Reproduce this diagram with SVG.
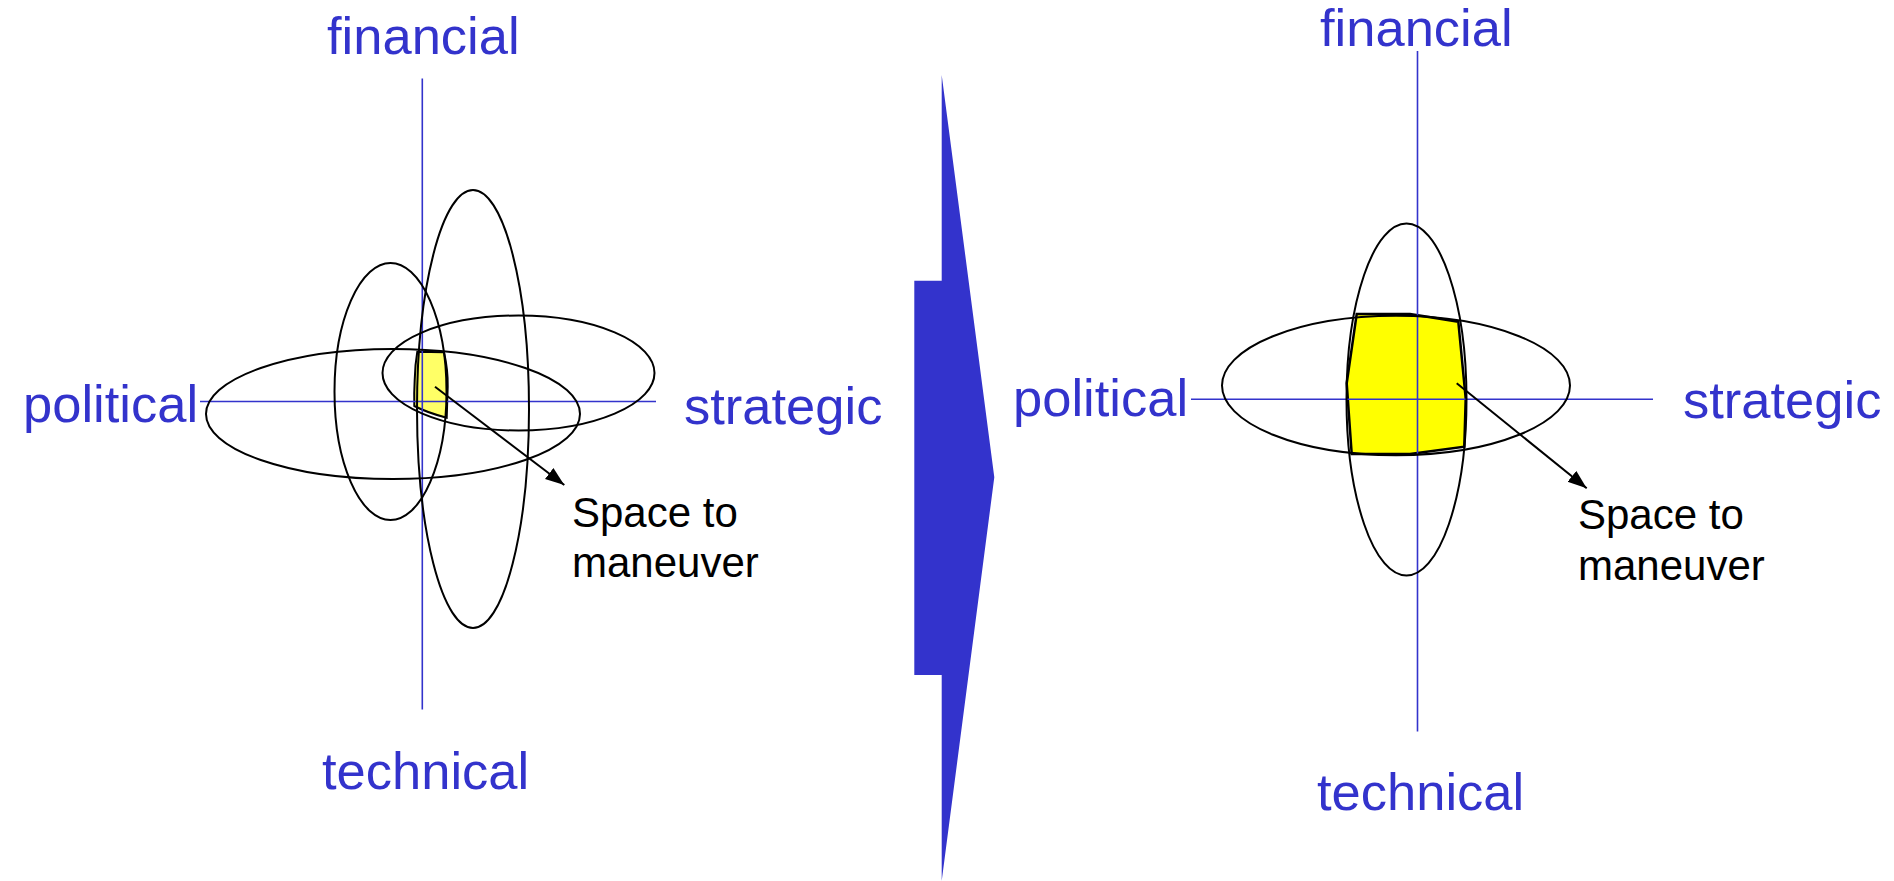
<svg xmlns="http://www.w3.org/2000/svg" width="1894" height="881" viewBox="0 0 1894 881">
<defs>
<style>
.lbl{font-family:"Liberation Sans",Arial,sans-serif;font-size:52.5px;fill:#3333cc}
.note{font-family:"Liberation Sans",Arial,sans-serif;font-size:42px;fill:#000}
.axis{stroke:#3333cc;stroke-width:1.6;fill:none}
.ell{stroke:#000;stroke-width:2;fill:none}
.ptr{stroke:#000;stroke-width:2;fill:none;marker-end:url(#head)}
</style>
<marker id="head" markerUnits="userSpaceOnUse" markerWidth="20" markerHeight="16" refX="19" refY="7" orient="auto" viewBox="0 0 20 14">
<path d="M0,0 L19,7 L0,14 Z" fill="#000"/>
</marker>
</defs>
<rect width="1894" height="881" fill="#fff"/>

<g id="left-diagram">
<g id="left-space">
<path d="M417.3,351.7 L444,352.3 Q448,370 447.7,386.7 L446.7,417.7 Q428,413 414.3,406 Q414,392 414.7,380 Q415,365 417.3,351.7 Z" fill="#ffff66" stroke="#000" stroke-width="2"/>
</g>
<g id="left-axes">
<line class="axis" x1="422.3" y1="78.5" x2="422.3" y2="709.5"/>
<line class="axis" x1="200" y1="401.5" x2="656" y2="401.5"/>
</g>
<g id="left-ellipses">
<ellipse class="ell" cx="393" cy="414" rx="187" ry="65"/>
<ellipse class="ell" cx="518.5" cy="373" rx="136" ry="57.5"/>
<ellipse class="ell" cx="390.5" cy="391.5" rx="56" ry="128.5"/>
<ellipse class="ell" cx="473" cy="409" rx="56" ry="219"/>
</g>
<g id="left-labels">
<text class="lbl" x="327" y="54">financial</text>
<text class="lbl" x="23" y="422">political</text>
<text class="lbl" x="684" y="424">strategic</text>
<text class="lbl" x="322" y="789">technical</text>
<text class="note" x="572" y="527">Space to</text>
<text class="note" x="572" y="577">maneuver</text>
</g>
</g>

<g id="transition-arrow">
<polygon points="941.7,75 994.3,477.3 941.7,881 941.7,675 914.3,675 914.3,280.7 941.7,280.7" fill="#3333cc"/>
</g>

<g id="right-diagram">
<g id="right-space">
<path d="M1356.7,314 L1410,314 L1458.3,321.7 L1465.7,398.3 L1464.3,446.7 L1410,454 L1351.7,454 L1346.7,383.3 Z" fill="#ffff00" stroke="#000" stroke-width="2.5"/>
</g>
<g id="right-axes">
<line class="axis" x1="1417.5" y1="51" x2="1417.5" y2="731.5"/>
<line class="axis" x1="1191" y1="399.3" x2="1653" y2="399.3"/>
</g>
<g id="right-ellipses">
<ellipse class="ell" cx="1396" cy="385.5" rx="174" ry="69.7"/>
<ellipse class="ell" cx="1406.5" cy="399.5" rx="60" ry="176"/>
</g>
<g id="right-labels">
<text class="lbl" x="1320" y="46">financial</text>
<text class="lbl" x="1013" y="416">political</text>
<text class="lbl" x="1683" y="418">strategic</text>
<text class="lbl" x="1317" y="810">technical</text>
<text class="note" x="1578" y="529">Space to</text>
<text class="note" x="1578" y="580">maneuver</text>
</g>
</g>

<g id="connectors">
<line class="ptr" x1="435" y1="386.7" x2="564.3" y2="485"/>
<line class="ptr" x1="1456.7" y1="383.3" x2="1586.7" y2="488.3"/>
</g>
</svg>
